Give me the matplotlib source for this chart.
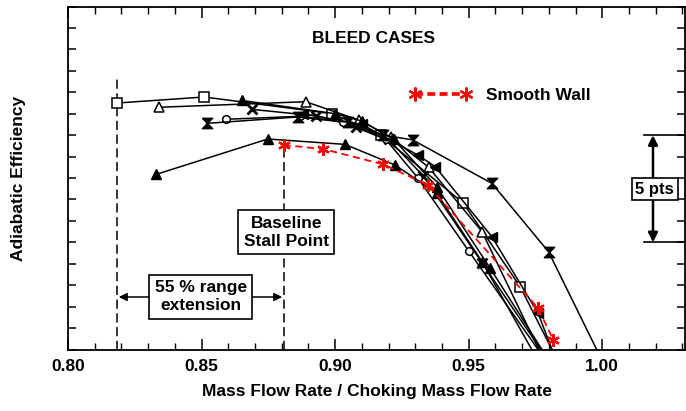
import matplotlib
matplotlib.use("Agg")
import matplotlib.pyplot as plt
from matplotlib.lines import Line2D
from matplotlib.ticker import MultipleLocator

plt.rcParams['font.family'] = ['Liberation Sans', 'DejaVu Sans']
plt.rcParams['font.weight'] = 'bold'

# ---- data (efficiency in points, arbitrary offset) ----
sq_x = [0.8185, 0.851, 0.899, 0.917, 0.948, 0.9693, 0.9832]
sq_y = [11.5, 11.78, 11.0, 10.0, 6.83, 2.93, -0.5]

otri_x = [0.834, 0.889, 0.909, 0.921, 0.935, 0.955, 0.9782]
otri_y = [11.3, 11.56, 10.7, 9.9, 8.5, 5.5, -0.5]

ftri_x = [0.865, 0.900, 0.910, 0.922, 0.938, 0.958, 0.980]
ftri_y = [11.62, 11.0, 10.66, 9.8, 7.6, 3.8, -0.5]

xm_x = [0.869, 0.893, 0.908, 0.920, 0.933, 0.955, 0.9797]
xm_y = [11.2, 10.9, 10.4, 9.8, 8.1, 4.05, -0.5]

circ_x = [0.859, 0.887, 0.903, 0.919, 0.931, 0.950, 0.9788]
circ_y = [10.74, 10.88, 10.6, 9.8, 8.0, 4.6, -0.5]

hg_x = [0.852, 0.886, 0.905, 0.918, 0.929, 0.9587, 0.9799, 0.9999]
hg_y = [10.55, 10.85, 10.6, 10.0, 9.78, 7.75, 4.56, -0.5]

ltri_x = [0.833, 0.8748, 0.9037, 0.9225, 0.938, 0.955, 0.9759]
ltri_y = [8.17, 9.82, 9.57, 8.6, 7.3, 4.1, -0.5]

flag_x = [0.888, 0.910, 0.931, 0.9375, 0.9587, 0.976, 0.9827]
flag_y = [11.0, 10.5, 9.07, 8.53, 5.26, 1.69, -0.5]

sw_x = [0.8807, 0.8956, 0.918, 0.9346, 0.976, 0.9817]
sw_y = [9.54, 9.35, 8.64, 7.68, 1.93, 0.44]

xticks = [0.80, 0.85, 0.90, 0.95, 1.00]
xtick_labels = ['0.80', '0.85', '0.90', '0.95', '1.00']

stall_x = 0.8807
ext_x = 0.8185

fig = plt.figure(figsize=(6.86, 4.11), dpi=100)
ax = fig.add_axes([0.0991, 0.1496, 0.8995, 0.8345])

hourglass = [(-1, 1), (1, 1), (-1, -1), (1, -1), (-1, 1)]
lw = 1.1
ms = 6.5
ax.plot(sq_x, sq_y, color='k', lw=lw, marker='s', ms=ms, mfc='white', mec='k', mew=1.1)
ax.plot(otri_x, otri_y, color='k', lw=lw, marker='^', ms=ms, mfc='white', mec='k', mew=1.1)
ax.plot(ftri_x, ftri_y, color='k', lw=lw, marker='^', ms=ms, mfc='k', mec='k')
ax.plot(xm_x, xm_y, color='k', lw=lw, marker='x', ms=ms, mew=2)
ax.plot(circ_x, circ_y, color='k', lw=lw, marker='o', ms=5.5, mfc='white', mec='k', mew=1.1)
ax.plot(hg_x, hg_y, color='k', lw=lw, marker=hourglass, ms=ms + 1, mfc='k', mec='k')
ax.plot(ltri_x, ltri_y, color='k', lw=lw, marker='^', ms=ms, mfc='k', mec='k')
ax.plot(flag_x, flag_y, color='k', lw=lw, marker='<', ms=ms, mfc='k', mec='k')
ax.plot(sw_x, sw_y, color='red', lw=1.3, ls=(0, (4, 2.5)), marker=(6, 2, 0), ms=9, mew=1.6,
        zorder=5)

ax.set_xlim(0.80, 1.031)
ax.set_ylim(0, 16)

# dashed reference lines
ax.plot([ext_x, ext_x], [0, 12.6], color='k', lw=1.1, ls=(0, (6, 3)), zorder=1)
ax.plot([stall_x, stall_x], [0, sw_y[0]], color='k', lw=1.1, ls=(0, (6, 3)), zorder=1)

# annotation boxes
bbox = dict(boxstyle='square,pad=0.3', fc='white', ec='k', lw=1.2)
ax.text(0.9145, 14.5, 'BLEED CASES', ha='center', va='center', fontsize=12.5, fontweight='bold')
ax.text(0.8817, 5.48, 'Baseline\nStall Point', ha='center', va='center', fontsize=12.5,
        fontweight='bold', bbox=bbox, zorder=6, linespacing=1.25)
ax.text(0.8497, 2.45, '55 % range\nextension', ha='center', va='center', fontsize=12.5,
        fontweight='bold', bbox=bbox, zorder=6, linespacing=1.25)
arr = dict(arrowstyle='-|>', color='k', lw=1.1, mutation_scale=12, shrinkA=0, shrinkB=0)
ax.annotate('', xy=(ext_x + 0.0005, 2.45), xytext=(0.8305, 2.45), arrowprops=arr)
ax.annotate('', xy=(stall_x - 0.0005, 2.45), xytext=(0.8692, 2.45), arrowprops=arr)

# 5 pts scale
ax.plot([1.0157, 1.031], [10, 10], color='k', lw=1.2, clip_on=False)
ax.plot([1.0157, 1.031], [5, 5], color='k', lw=1.2, clip_on=False)
arr2 = dict(arrowstyle='-|>', color='k', lw=1.8, mutation_scale=14, shrinkA=0, shrinkB=0)
ax.annotate('', xy=(1.019, 10), xytext=(1.019, 7.5), arrowprops=arr2)
ax.annotate('', xy=(1.019, 5), xytext=(1.019, 7.5), arrowprops=arr2)
ax.text(1.0197, 7.48, '5 pts', ha='center', va='center', fontsize=12, fontweight='bold',
        bbox=dict(boxstyle='square,pad=0.22', fc='white', ec='k', lw=1.2), zorder=6)

# legend
proxy = Line2D([0], [0], color='red', lw=2.6, ls=(0, (2.2, 1.2)), marker=(6, 2, 0), ms=10, mew=1.6)
leg = ax.legend([proxy], ['Smooth Wall'], loc='center left', bbox_to_anchor=(0.543, 0.742),
                frameon=False, handlelength=3.5, handletextpad=0.9, numpoints=2,
                borderaxespad=0, prop=dict(size=12.5, weight='bold'))

# ticks
ax.set_xticks(xticks)
ax.set_xticklabels(xtick_labels)
ax.xaxis.set_minor_locator(MultipleLocator(0.01))
ax.yaxis.set_major_locator(MultipleLocator(1))
ax.set_yticklabels([])
ax.tick_params(axis='x', which='major', direction='in', length=8, width=1.1, top=True,
               labelsize=12.5, pad=7)
ax.tick_params(axis='x', which='minor', direction='in', length=5, width=1.0, top=True)
ax.tick_params(axis='y', which='major', direction='in', length=6, width=1.1, right=True, left=True)
for lab in ax.get_xticklabels():
    lab.set_fontweight('bold')
for sp in ax.spines.values():
    sp.set_linewidth(1.3)

ax.set_xlabel('Mass Flow Rate / Choking Mass Flow Rate', fontsize=12.5, fontweight='bold',
              labelpad=7)
ax.set_ylabel('Adiabatic Efficiency', fontsize=12.5, fontweight='bold')
ax.yaxis.set_label_coords(-0.068, 0.5)

fig.savefig('out.png', dpi=100)
